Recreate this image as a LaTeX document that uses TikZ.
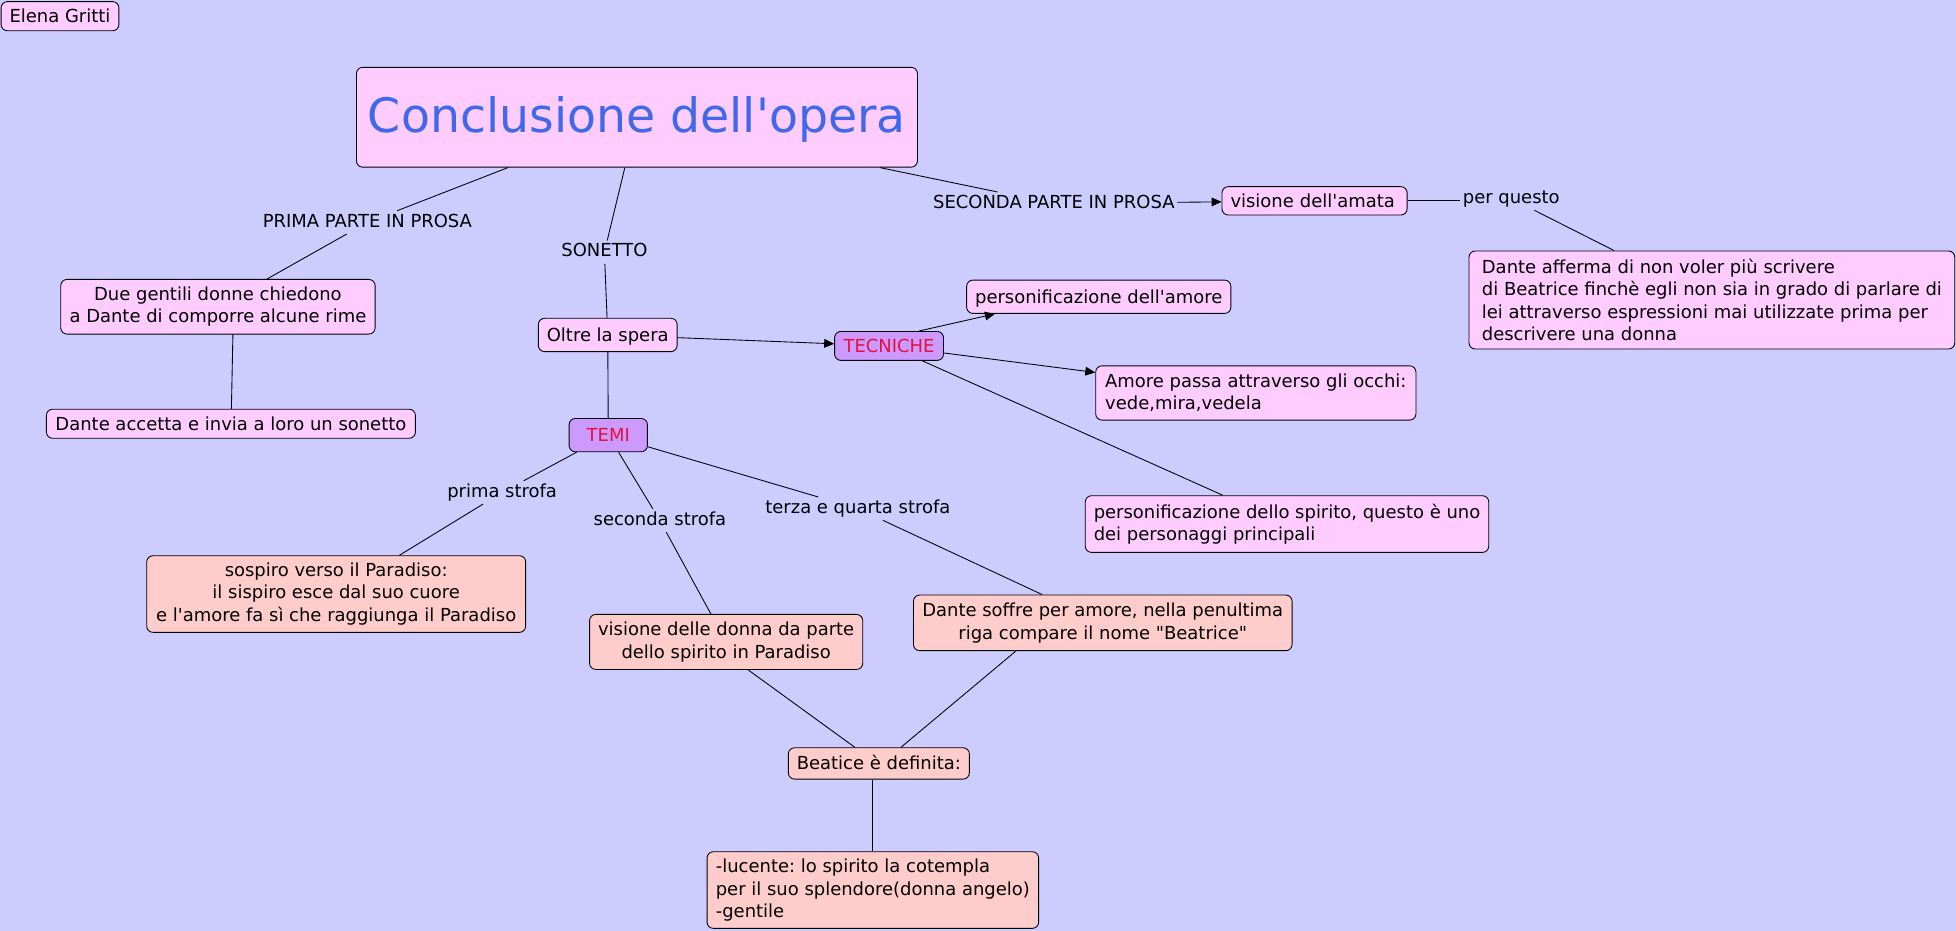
\documentclass[tikz,border=0pt]{standalone}
\usepackage{fontspec}
\newfontfamily\dv{DejaVu Sans}
\usetikzlibrary{arrows.meta,calc}
\definecolor{bgc}{RGB}{204,204,255}
\definecolor{pinkc}{RGB}{255,204,255}
\definecolor{salc}{RGB}{255,204,204}
\definecolor{purc}{RGB}{204,153,255}
\definecolor{redc}{RGB}{232,16,58}
\definecolor{bluec}{RGB}{64,104,235}
\begin{document}
\begin{tikzpicture}[x=1pt,y=-1pt,
  every node/.style={font=\dv\fontsize{14.4}{18}\selectfont\frenchspacing},
  box/.style={draw=black, line width=0.7pt, rounded corners=5pt, inner xsep=6.8pt, inner ysep=2pt, fill=pinkc},
  sal/.style={box, fill=salc},
  pur/.style={box, fill=purc, text=redc},
  one/.style={text height=13.6pt, text depth=3.4pt},
  lab/.style={inner sep=2pt, text height=10.9pt, text depth=3.4pt, anchor=base},
  conn/.style={draw=black, line width=0.7pt},
  arr/.style={-{Triangle[length=8pt,width=7pt]}}
]
\useasboundingbox (0,0) rectangle (1568,746);
\fill[bgc] (0,0) rectangle (1568,746);

% concepts
\node[box,one,minimum width=93.6pt,minimum height=23.3pt] (elena) at (48.1,13) {Elena Gritti};
\node[box,minimum width=449.7pt,minimum height=80pt,font=\dv\fontsize{38}{44}\selectfont,text=bluec,text height=31pt,text depth=7pt] (concl) at (510.6,94) {Conclusione dell'opera};
\node[box,align=center,minimum width=252pt,minimum height=43.8pt] (due) at (174.7,245.9) {Due gentili donne chiedono\\a Dante di comporre alcune rime};
\node[box,one,minimum width=295.8pt,minimum height=23.3pt] (accetta) at (185.1,339.7) {Dante accetta e invia a loro un sonetto};
\node[box,one,minimum width=111.2pt,minimum height=26.7pt] (oltre) at (487.2,268.5) {Oltre la spera};
\node[pur,one,minimum width=87.3pt,minimum height=23.2pt] (tecniche) at (712.7,277.3) {TECNICHE};
\node[pur,one,minimum width=62.8pt,minimum height=26.7pt] (temi) at (487.6,348.8) {TEMI};
\node[box,one,text width=134.8pt,align=left,minimum height=22.7pt] (visamata) at (1053.8,161) {visione dell'amata};
\node[box,align=left,minimum width=389.4pt,minimum height=78.6pt] (afferma) at (1372.3,240.5) {Dante afferma di non voler più scrivere\\di Beatrice finchè egli non sia in grado di parlare di\\lei attraverso espressioni mai utilizzate prima per\\descrivere una donna};
\node[box,one,minimum width=209.5pt,minimum height=26.7pt] (persamore) at (880.8,237.9) {personificazione dell'amore};
\node[box,align=left,minimum width=256.7pt,minimum height=43.5pt] (amore) at (1006.7,315) {Amore passa attraverso gli occhi:\\vede,mira,vedela};
\node[box,align=left,minimum width=322.8pt,minimum height=45.4pt] (persspirito) at (1031.7,420.1) {personificazione dello spirito, questo è uno\\dei personaggi principali};
\node[sal,align=center,minimum width=303.5pt,minimum height=44.6pt] (soffre) at (884,499.3) {Dante soffre per amore, nella penultima\\riga compare il nome "Beatrice"};
\node[sal,align=center,minimum width=218.8pt,minimum height=44.1pt] (visdonna) at (582.1,514.6) {visione delle donna da parte\\dello spirito in Paradiso};
\node[sal,one,minimum width=145pt,minimum height=25.1pt] (beatice) at (704.5,612) {Beatice è definita:};
\node[sal,align=left,minimum width=265.8pt,minimum height=61.4pt] (lucente) at (699.7,713.5) {-lucente: lo spirito la cotempla\\per il suo splendore(donna angelo)\\-gentile};
\node[sal,align=center,minimum width=303.8pt,minimum height=61.4pt] (sospiro) at (269.5,476.2) {sospiro verso il Paradiso:\\il sispiro esce dal suo cuore\\e l'amore fa sì che raggiunga il Paradiso};

% linking phrases
\node[lab] (lprima) at (294.5,182) {PRIMA PARTE IN PROSA};
\node[lab] (lsonetto) at (484.5,206) {SONETTO};
\node[lab] (lseconda) at (844.8,167) {SECONDA PARTE IN PROSA};
\node[lab] (lper) at (1211.5,163) {per questo};
\node[lab] (lprimastrofa) at (402.5,398.5) {prima strofa};
\node[lab] (lsecstrofa) at (529,421) {seconda strofa};
\node[lab] (lterza) at (687.7,411.5) {terza e quarta strofa};

% connectors
\draw[conn] (concl) -- (lprima);
\draw[conn] (lprima) -- (due);
\draw[conn] ($(due.south)+(12,0)$) -- ($(accetta.north)+(0.4,0)$);
\draw[conn] (concl) -- (lsonetto);
\draw[conn] (lsonetto) -- (oltre);
\draw[conn] (concl) -- (lseconda);
\draw[conn,arr] (lseconda) -- (visamata);
\draw[conn] (visamata.east) -- (visamata.east -| lper.west);
\draw[conn] (lper) -- (afferma);
\draw[conn,arr] (oltre) -- (tecniche);
\draw[conn] (oltre) -- (temi);
\draw[conn,arr] ($(tecniche.north east)+(-20,0)$) -- ($(persamore.south west)+(23,0)$);
\draw[conn,arr] (tecniche) -- (amore);
\draw[conn] (tecniche) -- (persspirito);
\draw[conn] (temi) -- (lprimastrofa);
\draw[conn] (lprimastrofa) -- (sospiro);
\draw[conn] (temi) -- (lsecstrofa);
\draw[conn] (lsecstrofa) -- (visdonna);
\draw[conn] (temi) -- (lterza);
\draw[conn] (lterza) -- (soffre);
\draw[conn] ($(visdonna.south west)+(127.5,0)$) -- ($(beatice.north)+(-19.2,0)$);
\draw[conn] ($(soffre.south west)+(82.4,0)$) -- ($(beatice.north)+(17.7,0)$);
\draw[conn] (beatice.south -| lucente.north) -- (lucente.north);
\end{tikzpicture}
\end{document}
